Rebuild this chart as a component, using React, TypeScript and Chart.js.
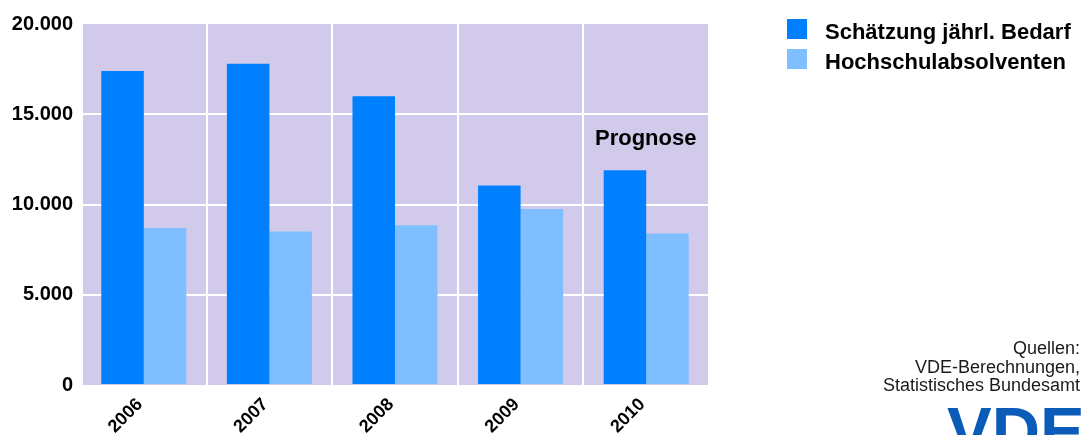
import React, { useEffect, useRef } from "react";
import { Chart, registerables } from "chart.js";

Chart.register(...registerables);

const years = ["2006", "2007", "2008", "2009", "2010"];
const bedarf = [17400, 17800, 16000, 11050, 11900];
const absolventen = [8700, 8500, 8850, 9750, 8400];
const yTicks = [0, 5000, 10000, 15000, 20000];
const seriesNames = ["Schätzung jährl. Bedarf", "Hochschulabsolventen"];
const noteText = "Prognose";
const sourceLines = ["Quellen:", "VDE-Berechnungen,", "Statistisches Bundesamt"];
const logoText = "VDE";

const DARK = "#0080FF";
const LIGHT = "#80BFFF";
const PLOT_BG = "#D2CAEA";
const FONT = "'Liberation Sans', Arial, sans-serif";

function fmt(v: number): string {
  const s = String(Math.round(v));
  return s.replace(/\B(?=(\d{3})+(?!\d))/g, ".");
}

const decorPlugin = {
  id: "decor",
  beforeDraw(chart: any) {
    const { ctx, chartArea } = chart;
    ctx.save();
    ctx.fillStyle = PLOT_BG;
    ctx.fillRect(chartArea.left + 2, chartArea.top, chartArea.right - chartArea.left - 2, chartArea.bottom - chartArea.top);
    ctx.restore();
  },
  afterDraw(chart: any) {
    const { ctx } = chart;
    const xs = chart.scales.x;
    const ys = chart.scales.y;
    ctx.save();
    // legend
    const colors = [DARK, LIGHT];
    seriesNames.forEach((name, i) => {
      const y0 = 19 + i * 30;
      ctx.fillStyle = colors[i];
      ctx.fillRect(787, y0, 20, 20);
      ctx.fillStyle = "#000";
      ctx.font = `bold 22px ${FONT}`;
      ctx.textAlign = "left";
      ctx.textBaseline = "alphabetic";
      ctx.fillText(name, 825, y0 + 20);
    });
    // Prognose note above last category
    const lastX = xs.getPixelForValue(years.length - 1);
    ctx.fillStyle = "#000";
    ctx.font = `bold 22px ${FONT}`;
    ctx.textAlign = "center";
    ctx.fillText(noteText, lastX - 0.5, ys.getPixelForValue(13300));
    // sources
    ctx.font = `18px ${FONT}`;
    ctx.fillStyle = "#1a1a1a";
    ctx.textAlign = "right";
    sourceLines.forEach((line, i) => {
      ctx.fillText(line, 1080, 354 + i * 18.5);
    });
    // logo
    ctx.fillStyle = "#0A5CB8";
    ctx.font = `bold 67px ${FONT}`;
    ctx.textAlign = "left";
    ctx.fillText(logoText, 947, 454);
    ctx.restore();
  },
};

export default function App() {
  const ref = useRef<HTMLCanvasElement | null>(null);
  useEffect(() => {
    if (!ref.current) return;
    const chart = new Chart(ref.current, {
      type: "bar",
      data: {
        labels: years,
        datasets: [
          { label: seriesNames[0], data: bedarf, backgroundColor: DARK, borderWidth: 0 },
          { label: seriesNames[1], data: absolventen, backgroundColor: LIGHT, borderWidth: 0 },
        ],
      },
      options: {
        responsive: false,
        animation: false,
        events: [],
        layout: { padding: { left: 0, right: 374, top: 24, bottom: 0 } },
        datasets: { bar: { categoryPercentage: 0.677, barPercentage: 1.0 } },
        plugins: { legend: { display: false }, tooltip: { enabled: false } },
        scales: {
          x: {
            border: { display: false },
            grid: {
              offset: true,
              drawTicks: false,
              lineWidth: 2,
              color: (c: any) => (c.index === 0 || c.index === years.length ? "rgba(0,0,0,0)" : "#ffffff"),
            },
            ticks: {
              autoSkip: false,
              minRotation: 45,
              maxRotation: 45,
              padding: 9,
              labelOffset: -4,
              color: "#000",
              font: { family: FONT, size: 18, weight: "bold" },
            },
            afterFit: (s: any) => {
              s.height = 50;
            },
          },
          y: {
            min: 0,
            max: 20000,
            border: { display: false },
            afterBuildTicks: (s: any) => {
              s.ticks = yTicks.map((v) => ({ value: v }));
            },
            grid: {
              drawTicks: false,
              lineWidth: 2,
              color: (c: any) =>
                c.tick && (c.tick.value === 0 || c.tick.value === 20000) ? "rgba(0,0,0,0)" : "#ffffff",
            },
            ticks: {
              padding: 8,
              color: "#000",
              font: { family: FONT, size: 20, weight: "bold" },
              callback: (v: any) => fmt(Number(v)),
            },
            afterFit: (s: any) => {
              s.width = 81;
            },
          },
        },
      },
      plugins: [decorPlugin],
    });
    return () => chart.destroy();
  }, []);
  return (
    <div style={{ position: "fixed", left: 0, top: 0, width: 1083, height: 435, background: "#fff" }}>
      <canvas ref={ref} width={1083} height={435} style={{ width: 1083, height: 435, display: "block" }} />
    </div>
  );
}
